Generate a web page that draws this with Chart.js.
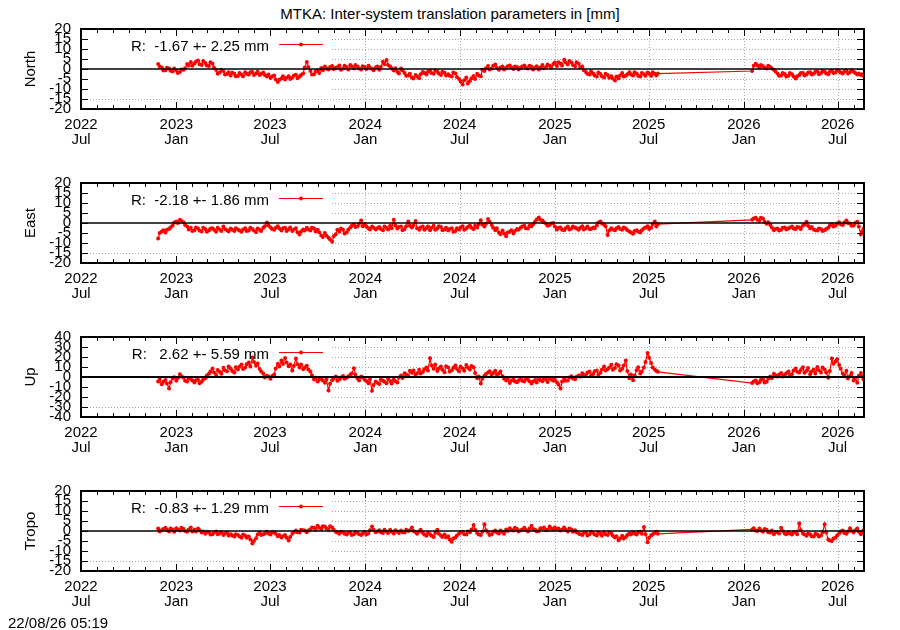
<!DOCTYPE html>
<html>
<head>
<meta charset="utf-8">
<script src="https://cdn.jsdelivr.net/npm/chart.js@4.4.0/dist/chart.umd.min.js"></script>
<style>
  body { margin: 0; background: #fff; }
  #wrap { position: relative; width: 900px; height: 630px; font-family: "Liberation Sans", Arial, sans-serif; }
  canvas { position: absolute; left: 0; }
  .txt { position: absolute; font-size: 15px; line-height: 16px; color: #000; white-space: nowrap; }
</style>
</head>
<body>
<div id="wrap">
  <div class="txt" style="left:0;top:6px;width:900px;text-align:center">MTKA: Inter-system translation parameters in [mm]</div>
  <canvas id="c0" width="900" height="154" style="top:0px"></canvas>
  <canvas id="c1" width="900" height="154" style="top:154px"></canvas>
  <canvas id="c2" width="900" height="154" style="top:308px"></canvas>
  <canvas id="c3" width="900" height="154" style="top:462px"></canvas>
  <div class="txt" style="left:8px;top:615px">22/08/26 05:19</div>
</div>
<script>
// epochs are days since 2022-07-01
const epoch = Date.UTC(2022, 6, 1);
const days = [
  149,156,163,170,177,184,191,198,205,212,
  219,226,233,240,247,254,261,268,275,282,
  289,296,303,310,317,324,331,338,345,352,
  359,366,373,380,387,394,401,408,415,422,
  429,436,443,450,457,464,471,478,485,492,
  499,506,513,520,527,534,541,548,555,562,
  569,576,583,590,597,604,611,618,625,632,
  639,646,653,660,667,674,681,688,695,702,
  709,716,723,730,737,744,751,758,765,772,
  779,786,793,800,807,814,821,828,835,842,
  849,856,863,870,877,884,891,898,905,912,
  919,926,933,940,947,954,961,968,975,982,
  989,996,1003,1010,1017,1024,1031,1038,1045,1052,
  1059,1066,1073,1080,1087,1094,1101,1108,1114,
  1296,1303,1310,1317,1324,1331,1338,1345,1352,1359,
  1366,1373,1380,1387,1394,1401,1408,1415,1422,1429,
  1436,1443,1450,1457,1464,1471,1478,1485,1492,1499,
  1506,1511
];
// in-between epochs
const daysMid = [
  152,159,166,173,180,187,194,201,208,215,
  222,229,236,243,250,257,264,271,278,285,
  292,299,306,313,320,327,334,341,348,355,
  362,369,376,383,390,397,404,411,418,425,
  432,439,446,453,460,467,474,481,488,495,
  502,509,516,523,530,537,544,551,558,565,
  572,579,586,593,600,607,614,621,628,635,
  642,649,656,663,670,677,684,691,698,705,
  712,719,726,733,740,747,754,761,768,775,
  782,789,796,803,810,817,824,831,838,845,
  852,859,866,873,880,887,894,901,908,915,
  922,929,936,943,950,957,964,971,978,985,
  992,999,1006,1013,1020,1027,1034,1041,1048,1055,
  1062,1069,1076,1083,1090,1097,1104,1111,
  1299,1306,1313,1320,1327,1334,1341,1348,1355,1362,
  1369,1376,1383,1390,1397,1404,1411,1418,1425,1432,
  1439,1446,1453,1460,1467,1474,1481,1488,1495,1502,
  1508
];

const north = [
  2.5, 0.8, -0.6, 0.3, -1.2, -0.8, -1.5, -0.4, 2.5, 3.5,
  2.8, 4.2, 2.0, 3.0, 1.5, 2.6, -0.5, -1.8, -1.0, -2.5,
  -3.2, -2.4, -3.5, -2.8, -1.6, -2.7, -1.5, -2.2, -3.0, -1.8,
  -3.8, -4.5, -3.2, -6.5, -4.8, -5.2, -3.6, -4.4, -2.9, -3.8,
  -2.2, 3.5, -1.0, -2.6, -0.8, 0.5, 1.2, -0.2, 1.5, 0.6,
  1.8, 0.2, 1.0, 2.0, 0.4, 1.3, -0.3, 0.9, 1.6, 0.1,
  0.8, -0.4, 3.6, 4.5, 1.2, -0.8, -1.5, 0.3, -2.0, -3.2,
  -4.2, -3.0, -4.6, -1.5, -2.8, -0.8, -2.4, -1.2, -3.0, -1.9,
  -2.6, -3.8, -2.2, -5.0, -7.8, -4.2, -6.0, -3.5, -2.4, -3.6,
  -1.0, 1.5, 0.2, 2.2, -0.4, 1.2, 0.5, 1.8, 0.0, 1.0,
  0.6, 1.8, 0.2, 1.2, 0.8, -0.3, 2.0, 1.0, 1.6, 2.5,
  1.5, 2.8, 4.6, 2.2, 3.2, 1.4, 2.6, 1.2, -1.5, -2.8,
  -2.2, -3.8, -2.5, -4.2, -3.0, -3.6, -5.8, -4.6, -2.0, -3.4,
  -1.6, -3.2, -2.2, -3.8, -2.6, -1.8, -3.4, -2.4, -2.3,
  -1.0, 2.6, 0.8, 1.4, 0.2, 1.0, -0.4, -2.2, -3.2, -2.5,
  -3.4, -2.6, -4.8, -3.0, -2.0, -2.8, -1.6, -2.4, -1.2, -2.0,
  -1.4, -2.6, -0.8, -1.8, -1.0, -2.2, -0.6, -1.6, -1.2, -2.8,
  -3.0, -3.4
];
const northMid = [
  1.2, -0.8, 0.6, -0.9, 0.2, -2.0, -0.2, 0.4, 1.8, 1.6,
  3.8, 2.4, 4.0, 1.8, 3.4, 0.6, -2.4, -0.4, -2.8, -1.6,
  -1.8, -3.6, -2.0, -3.6, -2.4, -1.6, -3.0, -1.4, -2.4, -3.0,
  -2.8, -3.8, -5.2, -5.4, -3.6, -4.4, -5.0, -3.2, -4.6, -3.0,
  0.8, 1.0, -2.8, -1.2, -2.0, -0.6, 0.2, 1.0, 0.0, 0.9,
  -0.4, 1.6, -0.2, 1.2, 2.0, 0.2, 1.4, 0.0, 0.8, -0.6,
  1.2, 1.0, 2.4, 2.0, 0.2, 0.4, -2.2, -0.8, -3.4, -2.4,
  -4.8, -3.8, -2.6, -2.0, -1.4, -2.0, -0.6, -2.2, -1.4, -3.2,
  -3.4, -1.8, -4.0, -6.2, -5.6, -7.2, -4.6, -5.0, -3.2, -0.4,
  0.4, -0.2, 1.6, 0.6, 0.8, -0.2, 1.4, 0.8, 1.2, -0.2,
  1.2, 0.8, 1.6, -0.2, 1.4, 0.8, 0.4, 2.2, 0.6, 3.2,
  3.4, 1.8, 3.2, 4.0, 2.0, 3.4, 0.8, -0.6, -2.4, -1.2,
  -3.2, -1.8, -3.6, -2.4, -4.4, -4.8, -3.8, -3.2, -3.8, -2.6,
  -2.8, -1.6, -3.4, -2.0, -3.4, -2.4, -1.6, -3.2,
  1.6, 1.8, 2.0, 0.6, 1.6, 0.2, -1.2, -3.4, -2.0, -3.8,
  -2.0, -3.8, -3.6, -2.0, -3.2, -1.8, -2.8, -1.4, -2.6, -1.0,
  -2.2, -1.4, -2.0, -0.6, -1.8, -1.2, -2.2, -0.6, -2.0, -2.2,
  -2.6
];

const east = [
  -7.8, -4.2, -4.8, -3.0, -1.2, 0.8, 1.6, 0.4, -1.8, -2.4,
  -3.6, -2.8, -4.2, -3.0, -3.8, -2.6, -4.4, -3.2, -1.8, -3.6,
  -2.8, -4.0, -3.2, -4.4, -2.6, -3.8, -3.0, -4.6, -3.4, -2.4,
  0.2, -2.2, -3.4, -1.6, -3.8, -2.4, -3.2, -4.0, -2.6, -5.8,
  -3.2, -2.4, -3.8, -2.8, -3.4, -6.2, -5.0, -7.4, -9.4, -5.6,
  -4.2, -3.4, -4.8, -2.2, -0.8, -1.6, 1.2, -0.6, -2.6, -1.8,
  -3.2, -2.0, -3.6, -2.4, -1.4, 1.6, -2.8, -1.8, -3.0, 0.8,
  -2.2, 1.0, -3.4, -1.8, -2.6, -3.6, -1.4, -2.8, -2.0, -3.2,
  -3.8, -2.6, -4.0, -3.2, -1.6, -2.8, -1.2, -3.0, -2.2, 1.4,
  -1.8, 2.0, -1.0, -3.6, -4.8, -3.8, -6.6, -4.4, -5.2, -3.0,
  -2.4, -1.4, -2.8, -1.6, 0.8, 2.8, 1.2, -0.4, -1.0, 0.0,
  -3.2, -2.2, -3.6, -1.8, -2.8, -2.2, -3.4, -1.6, -2.6, -3.0,
  -2.2, -1.2, 0.8, -0.8, -6.0, -2.6, -3.6, -2.0, -3.4, -2.8,
  -4.2, -5.4, -3.6, -4.8, -2.8, -1.6, -2.4, 0.8, -0.6,
  1.6, 2.6, 1.2, 2.2, -0.4, -1.0, -3.6, -2.8, -3.4, -2.2,
  -2.8, -1.8, -3.0, -2.2, -1.4, 0.6, -2.6, -3.2, -3.8, -3.0,
  -3.6, -2.4, -0.6, -1.4, 0.4, -1.0, 1.2, -0.2, -1.2, 0.6,
  -5.8, -3.0
];
const eastMid = [
  -5.0, -3.6, -3.4, -2.2, 0.2, 0.0, 1.0, -1.0, -3.2, -4.0,
  -2.2, -3.8, -2.4, -4.4, -2.8, -3.4, -2.4, -4.0, -3.0, -4.2,
  -3.4, -2.6, -3.8, -3.2, -4.0, -2.4, -3.8, -2.8, -4.0, -1.6,
  -1.2, -3.0, -2.4, -2.8, -2.6, -4.0, -2.2, -3.2, -4.6, -4.2,
  -3.8, -3.2, -2.4, -4.2, -4.6, -7.0, -6.4, -8.2, -6.6, -3.4,
  -2.8, -5.2, -3.4, -1.4, -2.0, -0.4, -1.6, -1.8, -3.2, -2.4,
  -2.6, -3.0, -1.8, -3.2, -2.6, -1.2, -2.0, -3.6, -1.6, -1.4,
  -1.2, -2.6, -2.2, -3.4, -1.8, -2.4, -3.4, -1.6, -3.6, -2.4,
  -3.0, -4.4, -2.6, -2.2, -3.4, -2.0, -2.4, -1.4, -0.6, -0.8,
  -0.4, 0.6, -2.4, -2.6, -5.6, -5.2, -4.8, -3.6, -4.0, -3.4,
  -1.8, -2.6, -1.4, -0.6, 1.8, 1.6, 0.4, -1.4, -0.2, -1.8,
  -2.4, -3.4, -2.6, -3.2, -1.8, -2.8, -2.4, -3.2, -1.8, -3.0,
  -2.6, 0.2, -0.2, -1.6, -3.8, -3.2, -2.6, -3.0, -2.2, -3.6,
  -4.8, -4.0, -4.2, -3.6, -2.2, -3.0, -0.6, -1.8,
  2.2, 1.6, 2.6, 0.6, 0.4, -2.2, -3.0, -3.8, -2.4, -3.2,
  -2.2, -2.8, -2.0, -3.0, -0.8, -1.4, -2.0, -3.6, -2.8, -4.0,
  -3.0, -1.2, -1.8, -0.2, -0.6, 0.2, 0.0, -1.4, 0.0, -1.8,
  -4.2
];

const up = [
  -4.5, -7.2, -3.0, -11.5, -1.5, -3.8, 2.8, -0.6, -4.4, -2.0,
  -5.6, -2.8, -4.8, -1.2, 3.2, 8.6, 1.4, 5.2, 9.2, 5.8,
  8.4, 4.6, 7.6, 12.4, 9.6, 14.6, 19.6, 11.2, 8.0, 3.2,
  1.2, -1.8, 2.6, 13.2, 16.4, 19.0, 10.8, 6.4, 18.6, 9.4,
  7.8, 11.2, 5.6, -2.4, -4.6, -1.0, -5.8, -13.6, -3.2, 0.4,
  -2.2, 1.0, -0.8, 2.6, 8.8, -1.6, 0.6, -2.8, -6.2, -13.8,
  -4.6, -7.0, -3.4, -6.2, -4.0, -2.6, -5.4, 1.6, 3.8, 0.8,
  4.2, 2.4, 7.2, 5.0, 9.6, 18.8, 8.2, 6.0, 10.4, 4.8,
  9.4, 6.8, 11.4, 5.8, 8.6, 12.0, 7.4, 9.8, -1.2, -6.6,
  1.2, 4.6, 2.0, 6.2, 3.4, 0.8, -3.6, -6.0, -2.4, -5.2,
  -1.8, -4.6, -2.6, -6.4, -3.0, -1.6, -4.2, -2.8, -0.8, -3.8,
  -5.2, -11.6, -1.2, -3.4, 0.8, -2.2, 1.6, 3.8, 2.2, 5.4,
  3.0, 6.6, 4.2, 10.4, 7.8, 12.2, 9.0, 11.4, 8.2, 16.6,
  -1.2, -3.2, 6.8, 3.6, 9.4, 24.0, 14.0, 7.6, 5.2,
  -6.0, -3.4, -5.2, -2.6, -4.8, 0.4, 3.2, 0.6, 4.0, 2.2,
  5.6, 3.0, 8.4, 4.6, 9.8, 6.2, 2.8, 7.4, 10.0, 4.4,
  7.6, -0.8, 18.6, 15.4, 12.0, 3.6, 6.2, 1.0, -3.6, -5.8,
  4.0, -2.2
];
const upMid = [
  -2.0, -4.8, -6.4, -5.2, -0.2, -1.0, 0.4, -3.8, -1.2, -3.6,
  -3.2, -6.2, -2.4, 1.4, 5.6, 4.4, 7.0, 3.2, 6.8, 10.6,
  6.0, 9.8, 10.2, 8.0, 12.8, 10.4, 15.0, 13.6, 5.6, -0.6,
  0.4, 0.8, 8.4, 10.6, 13.0, 14.4, 12.6, 11.0, 12.8, 12.6,
  9.6, 7.6, 1.8, -0.8, -2.6, -3.4, -2.2, -6.8, -1.4, -3.8,
  -0.6, -1.8, 0.6, 3.4, 2.2, -3.4, -0.4, -4.0, -2.4, -8.0,
  -5.8, -2.6, -4.8, -1.8, -6.4, -4.2, -0.6, -1.0, 2.4, 6.2,
  6.4, 3.8, 3.6, 7.8, 6.4, 11.6, 12.4, 8.4, 7.2, 10.8,
  5.6, 9.2, 8.0, 10.2, 6.2, 9.6, 11.0, 4.0, 0.6, -1.8,
  3.0, 5.8, 4.0, 2.2, 5.6, -1.8, -1.4, -3.6, -4.4, -3.6,
  -3.8, -1.2, -4.2, -4.6, -5.4, -3.2, -1.8, -5.0, -2.6, -2.4,
  -7.6, -4.4, -3.8, -0.6, -1.6, 0.2, 0.4, 1.4, 4.6, 1.6,
  5.8, 2.2, 7.6, 6.6, 9.4, 7.2, 12.8, 6.4, 11.6, 6.0,
  2.4, 1.6, 9.8, 5.4, 15.0, 19.2, 9.6, 6.0,
  -4.4, -6.2, -2.8, -5.6, -1.8, -1.2, 1.8, 2.6, 0.4, 3.8,
  1.8, 6.4, 5.2, 7.0, 4.2, 9.0, 5.6, 3.6, 6.8, 9.6,
  4.6, 6.0, 13.2, 17.8, 8.2, 1.2, -1.6, 4.0, -0.8, 1.2,
  0.8
];

const tropo = [
  1.2, 0.4, 1.6, -0.2, 0.8, 1.4, 0.2, 1.0, -0.4, 1.8,
  0.6, 1.2, -0.8, -1.4, -0.6, -1.6, -0.2, -1.2, -2.0, -0.8,
  -1.6, -2.8, -2.0, -3.4, -2.4, -2.8, -6.2, -3.6, -0.8, -1.6,
  -0.4, -1.8, -0.6, -2.6, -3.2, -2.0, -4.8, -1.4, 0.2, -0.8,
  0.4, -0.6, 0.8, 1.6, 2.6, 1.0, 2.2, 0.6, 1.8, -0.4,
  -1.4, -0.6, -1.8, -0.8, -1.6, -1.0, -2.0, -0.4, -1.2, 2.2,
  -0.6, 0.4, -1.0, -0.2, 0.6, -1.2, -0.4, 0.2, -0.8, 0.0,
  1.8, -0.6, -0.2, -1.0, -2.4, -1.6, -3.0, 0.6, -2.2, -1.8,
  -2.6, -5.4, -3.2, -1.4, -0.4, -1.8, -0.6, 3.0, -1.0, -2.0,
  3.4, -0.8, -1.6, 0.2, -1.2, -0.4, 0.8, 1.4, 0.2, 1.0,
  0.4, 1.6, -0.2, 2.6, 0.6, 0.0, 1.2, 0.4, 2.2, 0.8,
  1.0, 0.2, 1.8, -0.2, 0.8, 0.4, -1.2, -2.0, -0.8, -1.6,
  -1.0, -2.2, -1.4, -0.6, -2.0, -1.2, -3.2, -4.6, -2.4, -3.0,
  -1.2, -0.6, -1.8, -0.4, 2.0, -5.6, -2.2, -1.0, -1.4,
  0.8, 0.2, 1.2, -0.4, 0.6, -0.8, -1.6, -0.6, 1.6, -1.2,
  -0.6, -1.8, -0.4, 3.8, -1.2, -2.4, -1.6, -2.8, -1.8, -2.2,
  3.4, -4.2, -5.0, -3.4, -1.2, 0.2, -1.4, 1.4, -0.8, 1.2,
  -1.6, 0.4
];
const tropoMid = [
  -0.2, 1.0, 0.6, 1.2, -0.4, 0.8, 1.6, 0.0, 0.8, -0.2,
  -0.2, 0.4, -0.2, -0.6, -1.8, -0.8, -1.6, -0.6, -1.2, -2.2,
  -2.2, -1.6, -2.8, -1.8, -3.4, -4.2, -5.0, -1.8, -2.0, -1.2,
  -1.2, -0.8, -1.4, -2.0, -2.6, -3.4, -3.0, -0.6, -0.6, 0.6,
  0.2, 0.2, 1.8, 0.6, 1.6, 2.4, 1.2, 2.4, 0.6, -0.8,
  -0.4, -1.4, -1.0, -2.0, -0.6, -1.6, -1.2, -1.8, 0.4, 0.6,
  -0.2, -0.6, 0.6, -1.0, -0.4, 0.4, -1.0, -0.6, 0.6, 0.4,
  0.0, -1.4, 0.6, -1.8, -1.0, -2.4, -1.0, -1.4, -3.0, -3.2,
  -4.2, -3.8, -2.2, -0.6, -1.6, -0.2, 0.8, 0.6, -1.8, -0.4,
  0.4, -2.0, -0.4, -0.8, 0.2, -1.4, 0.0, 0.6, 1.6, -0.2,
  0.8, 0.6, 1.2, 1.0, -0.2, 1.4, 1.8, 0.8, 1.2, 1.8,
  1.2, 0.8, 0.6, 1.2, -0.4, -0.6, -1.6, -1.0, -2.2, -0.4,
  -1.8, -0.8, -2.4, -1.6, -0.8, -2.4, -2.6, -3.6, -3.8, -2.0,
  -1.8, -1.2, -0.6, -1.4, -1.6, -3.4, -1.6, -0.4,
  1.4, 0.0, 0.2, 1.0, -0.6, 0.2, -0.6, -1.2, 0.0, -1.6,
  -1.2, -0.8, -1.6, 0.4, -1.8, -1.2, -2.6, -1.4, -2.8, -0.6,
  -0.8, -4.8, -3.8, -2.2, -0.2, -1.0, -0.2, 0.0, 0.4, -0.4,
  -0.6
];

const xTickDates = ['2022-07-01', '2023-01-01', '2023-07-01', '2024-01-01', '2024-07-01',
                    '2025-01-01', '2025-07-01', '2026-01-01', '2026-07-01'];
const xTickLabels = [['2022', 'Jul'], ['2023', 'Jan'], ['2023', 'Jul'], ['2024', 'Jan'], ['2024', 'Jul'],
                     ['2025', 'Jan'], ['2025', 'Jul'], ['2026', 'Jan'], ['2026', 'Jul']];
const keyTexts = ['R:  -1.67 +- 2.25 mm', 'R:  -2.18 +- 1.86 mm', 'R:   2.62 +- 5.59 mm', 'R:  -0.83 +- 1.29 mm'];
const axisTitles = ['North', 'East', 'Up', 'Tropo'];

const FONT = '"Liberation Sans", Arial, sans-serif';
const dayOf = s => (Date.parse(s) - epoch) / 864e5;

// monthly minor ticks
const monthDays = [];
for (let y = 2022, m = 6; y < 2026 || m <= 7; m++) {
  if (m > 11) { m = 0; y++; }
  monthDays.push((Date.UTC(y, m, 1) - epoch) / 864e5);
}

// gnuplot-like frame, grid, inward ticks and key
const gnuplotLook = {
  id: 'gnuplotLook',
  beforeDatasetsDraw(chart) {
    const { ctx, chartArea: a, scales: { x, y } } = chart;
    const keyRight = 332;
    const cut = y.min + (y.max - y.min) * 0.15;
    ctx.save();
    ctx.strokeStyle = '#a8a8a8';
    ctx.lineWidth = 1;
    ctx.setLineDash([1, 2]);
    y.ticks.forEach(t => {
      if (t.value === 0 || t.value <= y.min || t.value >= y.max) return;
      const py = Math.round(y.getPixelForValue(t.value)) + 0.5;
      ctx.beginPath();
      ctx.moveTo(t.value > cut ? keyRight : a.left, py);
      ctx.lineTo(a.right, py);
      ctx.stroke();
    });
    x.ticks.forEach(t => {
      const px = Math.round(x.getPixelForValue(t.value)) + 0.5;
      if (px < keyRight) return;
      ctx.beginPath();
      ctx.moveTo(px, a.top);
      ctx.lineTo(px, a.bottom);
      ctx.stroke();
    });
    ctx.restore();
  },
  afterDatasetsDraw(chart, args, opts) {
    const { ctx, chartArea: a, scales: { x, y } } = chart;
    ctx.save();
    // zero line
    const y0 = y.getPixelForValue(0);
    ctx.strokeStyle = '#000';
    ctx.lineWidth = opts.zeroWidth;
    ctx.beginPath();
    ctx.moveTo(a.left, y0);
    ctx.lineTo(a.right, y0);
    ctx.stroke();
    // ticks
    ctx.lineWidth = 1;
    ctx.beginPath();
    monthDays.forEach(d => {
      const px = Math.round(x.getPixelForValue(d)) + 0.5;
      if (px <= a.left + 1 || px >= a.right - 1) return;
      const major = x.ticks.some(t => t.value === d);
      const len = major ? 7 : 4;
      ctx.moveTo(px, a.bottom); ctx.lineTo(px, a.bottom - len);
      ctx.moveTo(px, a.top); ctx.lineTo(px, a.top + len);
    });
    y.ticks.forEach(t => {
      if (t.value <= y.min || t.value >= y.max) return;
      const py = Math.round(y.getPixelForValue(t.value)) + 0.5;
      ctx.moveTo(a.left, py); ctx.lineTo(a.left + 7, py);
      ctx.moveTo(a.right, py); ctx.lineTo(a.right - 7, py);
    });
    ctx.stroke();
    // frame
    ctx.lineWidth = 2;
    ctx.strokeRect(a.left, a.top, a.right - a.left, a.bottom - a.top);
    // key
    ctx.fillStyle = '#000';
    ctx.font = '15px ' + FONT;
    ctx.textAlign = 'right';
    ctx.textBaseline = 'alphabetic';
    ctx.fillText(opts.key, 269, a.top + 21.5);
    const ky = a.top + 15.5;
    ctx.strokeStyle = '#ff0000';
    ctx.lineWidth = 1;
    ctx.beginPath();
    ctx.moveTo(279, ky); ctx.lineTo(323, ky);
    ctx.stroke();
    ctx.fillStyle = '#ff0000';
    ctx.beginPath();
    ctx.arc(301, ky, 2, 0, Math.PI * 2);
    ctx.fill();
    ctx.restore();
  }
};

const panels = [
  { values: north, mid: northMid, min: -20, max: 20, step: 5, zero: 1.5 },
  { values: east, mid: eastMid, min: -20, max: 20, step: 5, zero: 1.5 },
  { values: up, mid: upMid, min: -40, max: 40, step: 10, zero: 2 },
  { values: tropo, mid: tropoMid, min: -20, max: 20, step: 5, zero: 1.5 }
];

panels.forEach((p, i) => {
  const pts = days.map((d, k) => ({ x: d, y: p.values[k] }))
    .concat(daysMid.map((d, k) => ({ x: d, y: p.mid[k] })))
    .sort((a, b) => a.x - b.x);
  const ctx = document.getElementById('c' + i).getContext('2d');
  new Chart(ctx, {
    type: 'line',
    data: {
      datasets: [{
        data: pts,
        borderColor: '#ff0000',
        borderWidth: 1.2,
        backgroundColor: '#ff0000',
        pointRadius: 2,
        pointBorderWidth: 0,
        pointBackgroundColor: '#ff0000',
        tension: 0
      }]
    },
    options: {
      responsive: false,
      animation: false,
      devicePixelRatio: 1,
      layout: { padding: { top: 29, right: 36, left: 0, bottom: 0 } },
      plugins: {
        legend: { display: false },
        tooltip: { enabled: false },
        gnuplotLook: { key: keyTexts[i], zeroWidth: p.zero }
      },
      scales: {
        x: {
          type: 'linear',
          min: 0,
          max: 1512,
          afterBuildTicks: s => { s.ticks = xTickDates.map(d => ({ value: dayOf(d) })); },
          afterFit: s => { s.height = 45; },
          grid: { display: false, drawTicks: false },
          border: { display: false },
          ticks: {
            autoSkip: false,
            maxRotation: 0,
            padding: 9,
            color: '#000',
            font: { family: FONT, size: 15, lineHeight: 0.98 },
            callback: (v, idx) => xTickLabels[idx]
          }
        },
        y: {
          min: p.min,
          max: p.max,
          afterFit: s => { s.width = 81; },
          grid: { display: false, drawTicks: false },
          border: { display: false },
          ticks: {
            stepSize: p.step,
            autoSkip: false,
            padding: 10,
            color: '#000',
            font: { family: FONT, size: 15 }
          },
          title: {
            display: true,
            text: axisTitles[i],
            color: '#000',
            font: { family: FONT, size: 15 },
            padding: { top: 22, bottom: 0 }
          }
        }
      }
    },
    plugins: [gnuplotLook]
  });
});
</script>
</body>
</html>
